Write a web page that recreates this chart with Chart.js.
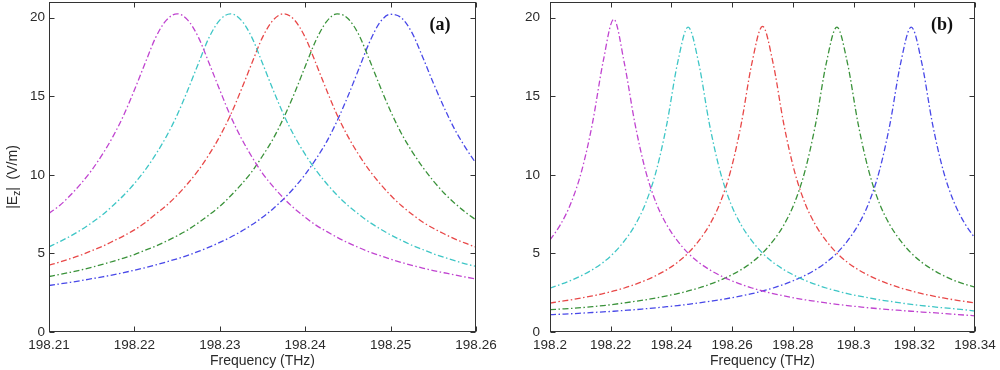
<!DOCTYPE html>
<html>
<head>
<meta charset="utf-8">
<script src="https://cdn.jsdelivr.net/npm/chart.js@4.4.0/dist/chart.umd.min.js"></script>
<style>
  body { margin: 0; background: #fff; }
  #wrap { position: relative; width: 1000px; height: 370px; }
  #chart-a { position: absolute; left: 0; top: 0; }
  #chart-b { position: absolute; left: 505px; top: 0; }
</style>
</head>
<body>
<div id="wrap">
  <canvas id="chart-a" width="505" height="370"></canvas>
  <canvas id="chart-b" width="495" height="370"></canvas>
</div>
<script>
// panel (a) frequency grid (THz)
const freqA = [198.21, 198.21125, 198.2125, 198.21375, 198.215, 198.21625, 198.2175, 198.21875,
  198.22, 198.22125, 198.2225, 198.22375, 198.225, 198.22625, 198.2275, 198.22875,
  198.23, 198.23125, 198.2325, 198.23375, 198.235, 198.23625, 198.2375, 198.23875,
  198.24, 198.24125, 198.2425, 198.24375, 198.245, 198.24625, 198.2475, 198.24875,
  198.25, 198.25125, 198.2525, 198.25375, 198.255, 198.25625, 198.2575, 198.25875, 198.26];

// panel (a) |Ez| values (V/m)
const magentaA = [7.55, 8.05, 8.7, 9.45, 10.3, 11.3, 12.45, 13.8, 15.4, 17.1, 18.75, 19.85, 20.25, 19.85,
  18.75, 17.1, 15.4, 13.75, 12.35, 11.15, 10.1, 9.25, 8.5, 7.85, 7.3, 6.8, 6.4, 6.02, 5.68, 5.38, 5.1,
  4.86, 4.64, 4.43, 4.24, 4.07, 3.91, 3.77, 3.63, 3.5, 3.38];
const cyanA = [5.42, 5.75, 6.1, 6.5, 6.95, 7.45, 8.05, 8.7, 9.45, 10.3, 11.3, 12.45, 13.8, 15.4, 17.1,
  18.75, 19.85, 20.25, 19.85, 18.75, 17.1, 15.4, 13.8, 12.45, 11.3, 10.3, 9.45, 8.7, 8.05, 7.5, 7.0,
  6.57, 6.18, 5.84, 5.52, 5.25, 4.98, 4.75, 4.54, 4.34, 4.17];
const redA = [4.25, 4.45, 4.67, 4.9, 5.17, 5.45, 5.78, 6.12, 6.5, 6.95, 7.5, 8.05, 8.7, 9.45, 10.3, 11.3,
  12.45, 13.8, 15.4, 17.1, 18.75, 19.85, 20.25, 19.85, 18.75, 17.1, 15.4, 13.8, 12.45, 11.3, 10.3, 9.45,
  8.7, 8.05, 7.5, 7.0, 6.6, 6.25, 5.93, 5.65, 5.4];
const greenA = [3.53, 3.66, 3.8, 3.95, 4.12, 4.3, 4.5, 4.7, 4.93, 5.2, 5.47, 5.78, 6.12, 6.5, 6.95, 7.45,
  8.0, 8.65, 9.38, 10.2, 11.2, 12.3, 13.65, 15.2, 16.9, 18.55, 19.75, 20.25, 19.95, 18.95, 17.35, 15.65,
  14.05, 12.65, 11.5, 10.5, 9.62, 8.85, 8.2, 7.63, 7.13];
const blueA = [2.96, 3.06, 3.16, 3.27, 3.39, 3.51, 3.64, 3.78, 3.93, 4.09, 4.27, 4.46, 4.66, 4.88, 5.13,
  5.4, 5.7, 6.03, 6.4, 6.82, 7.3, 7.85, 8.48, 9.2, 10.03, 11.0, 12.1, 13.45, 15.0, 16.7, 18.4, 19.7,
  20.22, 20.0, 19.05, 17.5, 15.85, 14.3, 12.9, 11.75, 10.73];

// panel (b) frequency grid (THz)
const freqB = [198.2, 198.2035, 198.207, 198.2105, 198.214, 198.2175, 198.221, 198.2245, 198.228,
  198.2315, 198.235, 198.2385, 198.242, 198.2455, 198.249, 198.2525, 198.256, 198.2595, 198.263,
  198.2665, 198.27, 198.2735, 198.277, 198.2805, 198.284, 198.2875, 198.291, 198.2945, 198.298,
  198.3015, 198.305, 198.3085, 198.312, 198.3155, 198.319, 198.3225, 198.326, 198.3295, 198.333,
  198.3365, 198.34];

// panel (b) |Ez| values (V/m)
const magentaB = [5.86, 6.85, 8.25, 10.3, 13.3, 17.2, 19.9, 17.1, 13.25, 10.25, 8.2, 6.8, 5.8, 5.02, 4.43,
  3.97, 3.6, 3.29, 3.03, 2.8, 2.61, 2.44, 2.3, 2.17, 2.05, 1.95, 1.85, 1.76, 1.68, 1.61, 1.54, 1.48, 1.42,
  1.37, 1.32, 1.27, 1.23, 1.18, 1.13, 1.08, 1.03];
const cyanB = [2.79, 3.03, 3.29, 3.6, 3.97, 4.43, 5.02, 5.8, 6.8, 8.2, 10.25, 13.25, 17.1, 19.4, 17.1,
  13.25, 10.25, 8.2, 6.8, 5.8, 5.02, 4.43, 3.97, 3.6, 3.29, 3.03, 2.8, 2.61, 2.44, 2.3, 2.17, 2.05, 1.95,
  1.85, 1.76, 1.68, 1.61, 1.54, 1.48, 1.42, 1.33];
const redB = [1.84, 1.95, 2.05, 2.17, 2.3, 2.44, 2.61, 2.8, 3.03, 3.29, 3.6, 3.97, 4.43, 5.02, 5.8, 6.8,
  8.2, 10.25, 13.25, 17.1, 19.45, 17.1, 13.25, 10.25, 8.2, 6.8, 5.8, 5.02, 4.43, 3.97, 3.6, 3.29, 3.03,
  2.8, 2.61, 2.44, 2.3, 2.17, 2.05, 1.95, 1.85];
const greenB = [1.42, 1.46, 1.5, 1.55, 1.61, 1.68, 1.76, 1.85, 1.95, 2.05, 2.17, 2.3, 2.44, 2.61, 2.8,
  3.03, 3.29, 3.6, 3.97, 4.43, 5.02, 5.8, 6.8, 8.2, 10.25, 13.25, 17.1, 19.4, 17.1, 13.25, 10.25, 8.2,
  6.8, 5.8, 5.02, 4.43, 3.97, 3.6, 3.29, 3.05, 2.86];
const blueB = [1.1, 1.13, 1.16, 1.2, 1.24, 1.28, 1.32, 1.37, 1.42, 1.48, 1.54, 1.61, 1.68, 1.76, 1.85,
  1.95, 2.05, 2.17, 2.3, 2.44, 2.61, 2.8, 3.03, 3.29, 3.6, 3.97, 4.43, 5.02, 5.8, 6.8, 8.2, 10.25, 13.25,
  17.1, 19.4, 17.1, 13.25, 10.3, 8.3, 6.95, 5.97];

// ticks
const xTicksA = [198.21, 198.22, 198.23, 198.24, 198.25, 198.26];
const xLabelsA = ['198.21', '198.22', '198.23', '198.24', '198.25', '198.26'];
const xTicksB = [198.2, 198.22, 198.24, 198.26, 198.28, 198.3, 198.32, 198.34];
const xLabelsB = ['198.2', '198.22', '198.24', '198.26', '198.28', '198.3', '198.32', '198.34'];
const yTicks = [0, 5, 10, 15, 20];

const textColor = '#2a2a2a';
const fontFamily = '"Liberation Sans", Arial, sans-serif';
const colors = {
  magenta: '#c044d0',
  cyan: '#3ec6c6',
  red: '#e84848',
  green: '#3a923a',
  blue: '#4848e8'
};

// 坐标框 + 内向刻度 + 面板标记
const frameBox = {
  id: 'frameBox',
  afterDatasetsDraw(chart, args, opts) {
    const { ctx, chartArea, scales } = chart;
    const l = Math.round(chartArea.left) + 0.5;
    const r = Math.round(chartArea.right) - 0.5;
    const t = Math.round(chartArea.top) + 0.5;
    const b = Math.round(chartArea.bottom) - 0.5;
    const tick = 5;

    ctx.save();
    ctx.strokeStyle = '#333';
    ctx.lineWidth = 1;
    ctx.strokeRect(l, t, r - l, b - t);

    ctx.beginPath();
    scales.x.ticks.forEach(tk => {
      const px = Math.round(scales.x.getPixelForValue(tk.value)) + 0.5;
      ctx.moveTo(px, b); ctx.lineTo(px, b - tick);
      ctx.moveTo(px, t); ctx.lineTo(px, t + tick);
    });
    scales.y.ticks.forEach(tk => {
      const py = Math.round(scales.y.getPixelForValue(tk.value)) + 0.5;
      ctx.moveTo(l, py); ctx.lineTo(l + tick, py);
      ctx.moveTo(r, py); ctx.lineTo(r - tick, py);
    });
    ctx.stroke();

    // panel tag
    ctx.fillStyle = '#111';
    ctx.font = 'bold 18px "Liberation Serif", "Times New Roman", serif';
    ctx.textAlign = 'center';
    ctx.textBaseline = 'middle';
    ctx.fillText(opts.tag, opts.tagX, opts.tagY);

    // |E_z| (V/m) y title
    if (opts.yTitle) {
      const big = '14px ' + fontFamily;
      const small = '10px ' + fontFamily;
      const parts = [['|E', big, 0], ['z', small, 4], ['|  (V/m)', big, 0]];
      let total = 0;
      parts.forEach(p => { ctx.font = p[1]; total += ctx.measureText(p[0]).width; });
      ctx.translate(13, 177);
      ctx.rotate(-Math.PI / 2);
      ctx.fillStyle = textColor;
      ctx.textAlign = 'left';
      let pos = -total / 2;
      parts.forEach(p => {
        ctx.font = p[1];
        ctx.fillText(p[0], pos, p[2]);
        pos += ctx.measureText(p[0]).width;
      });
    }
    ctx.restore();
  }
};

function makeSet(freqs, vals, color) {
  return {
    data: freqs.map((f, i) => ({ x: f, y: vals[i] })),
    borderColor: color,
    borderWidth: 1.3,
    borderDash: [6, 2.5, 1.5, 2.5],
    pointRadius: 0,
    cubicInterpolationMode: 'monotone',
    fill: false
  };
}

function makeChart(id, freqs, series, cfg) {
  const ctx = document.getElementById(id).getContext('2d');
  return new Chart(ctx, {
    type: 'line',
    data: {
      datasets: [
        makeSet(freqs, series[0], colors.magenta),
        makeSet(freqs, series[1], colors.cyan),
        makeSet(freqs, series[2], colors.red),
        makeSet(freqs, series[3], colors.green),
        makeSet(freqs, series[4], colors.blue)
      ]
    },
    options: {
      responsive: false,
      animation: false,
      devicePixelRatio: 1,
      layout: { padding: { left: 0, right: cfg.padRight, top: 2, bottom: 0 } },
      plugins: {
        legend: { display: false },
        tooltip: { enabled: false },
        frameBox: { tag: cfg.tag, tagX: cfg.tagX, tagY: 25, yTitle: cfg.yTitle }
      },
      scales: {
        x: {
          type: 'linear',
          min: cfg.xMin,
          max: cfg.xMax,
          grid: { display: false, drawTicks: false },
          border: { display: false },
          afterBuildTicks: s => { s.ticks = cfg.xTicks.map(v => ({ value: v })); },
          afterFit: s => { s.height = 38; s.paddingLeft = 0; s.paddingRight = 0; },
          ticks: {
            autoSkip: false,
            maxRotation: 0,
            padding: 5,
            color: textColor,
            font: { family: fontFamily, size: 13.5 },
            callback: (v, i) => cfg.xLabels[i]
          },
          title: {
            display: true,
            text: 'Frequency (THz)',
            color: textColor,
            font: { family: fontFamily, size: 14 },
            padding: { top: 0, bottom: 0 }
          }
        },
        y: {
          min: 0,
          max: 21,
          grid: { display: false, drawTicks: false },
          border: { display: false },
          afterBuildTicks: s => { s.ticks = yTicks.map(v => ({ value: v })); },
          afterFit: s => { s.width = cfg.yWidth; s.paddingTop = 0; s.paddingBottom = 0; },
          ticks: {
            padding: cfg.yPad,
            color: textColor,
            font: { family: fontFamily, size: 13.5 }
          }
        }
      }
    },
    plugins: [frameBox]
  });
}

makeChart('chart-a', freqA, [magentaA, cyanA, redA, greenA, blueA], {
  xMin: 198.21, xMax: 198.26, xTicks: xTicksA, xLabels: xLabelsA,
  yWidth: 49, yPad: 4, padRight: 29, tag: '(a)', tagX: 440, yTitle: true
});

makeChart('chart-b', freqB, [magentaB, cyanB, redB, greenB, blueB], {
  xMin: 198.2, xMax: 198.34, xTicks: xTicksB, xLabels: xLabelsB,
  yWidth: 45, yPad: 10, padRight: 25, tag: '(b)', tagX: 437, yTitle: false
});
</script>
</body>
</html>
